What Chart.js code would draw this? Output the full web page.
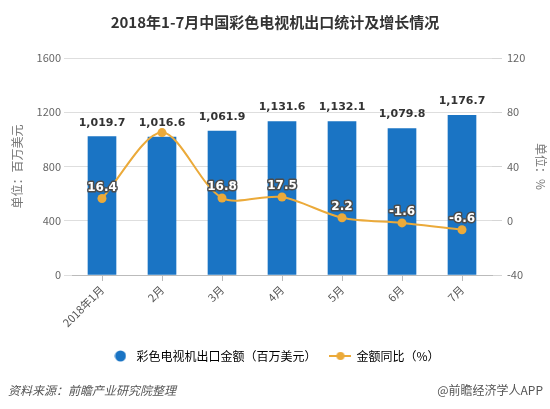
<!DOCTYPE html>
<html>
<head>
<meta charset="utf-8">
<script src="https://cdn.jsdelivr.net/npm/chart.js@4/dist/chart.umd.min.js"></script>
<style>
  html, body { margin: 0; padding: 0; background: #fff; }
  #wrap { width: 550px; height: 409px; position: relative; }
</style>
</head>
<body>
<div id="wrap"><canvas id="chart" width="550" height="409"></canvas></div>
<script>
var months = ['2018年1月', '2月', '3月', '4月', '5月', '6月', '7月'];
var exportValue = [1019.7, 1016.6, 1061.9, 1131.6, 1132.1, 1079.8, 1176.7];
var growthRate = [16.4, 65.0, 16.8, 17.5, 2.2, -1.6, -6.6];
var leftTicks = [0, 400, 800, 1200, 1600];
var rightTicks = [-40, 0, 40, 80, 120];

var FONT = '"Noto Sans CJK SC", "Noto Sans", sans-serif';
var BLUE = '#1a74c4';
var GOLD = '#ebaa3a';

// legend icons
function circleIcon() {
  var c = document.createElement('canvas');
  c.width = 12; c.height = 12;
  var g = c.getContext('2d');
  g.fillStyle = BLUE;
  g.beginPath(); g.arc(6, 6, 5.5, 0, Math.PI * 2); g.fill();
  return c;
}
function lineIcon() {
  var c = document.createElement('canvas');
  c.width = 22; c.height = 10;
  var g = c.getContext('2d');
  g.strokeStyle = GOLD; g.lineWidth = 2;
  g.beginPath(); g.moveTo(0, 5); g.lineTo(22, 5); g.stroke();
  g.fillStyle = GOLD;
  g.beginPath(); g.arc(11, 5, 4, 0, Math.PI * 2); g.fill();
  return c;
}

var valueLabels = {
  id: 'valueLabels',
  afterDatasetsDraw: function(chart) {
    var ctx = chart.ctx;
    var barMeta = chart.getDatasetMeta(0);
    var lineMeta = chart.getDatasetMeta(1);
    ctx.save();
    ctx.textAlign = 'center';
    ctx.textBaseline = 'middle';

    // growth labels (white with dark outline)
    ctx.font = 'bold 12px "DejaVu Sans"';
    lineMeta.data.forEach(function(pt, i) {
      var y = pt.y - 11;
      var barLabelY = barMeta.data[i].y - 14;
      if (Math.abs(y - barLabelY) < 14) return;
      var txt = growthRate[i].toFixed(1);
      ctx.lineWidth = 3;
      ctx.lineJoin = 'round';
      ctx.strokeStyle = '#4d4d4d';
      ctx.strokeText(txt, pt.x, y);
      ctx.fillStyle = '#fff';
      ctx.fillText(txt, pt.x, y);
    });

    // export value labels
    ctx.font = 'bold 11px "DejaVu Sans"';
    ctx.fillStyle = '#333';
    barMeta.data.forEach(function(bar, i) {
      var txt = exportValue[i].toLocaleString('en-US', { minimumFractionDigits: 1, maximumFractionDigits: 1 });
      ctx.fillText(txt, bar.x, bar.y - 14);
    });
    ctx.restore();
  }
};

var footer = {
  id: 'footer',
  afterDraw: function(chart) {
    var ctx = chart.ctx;
    ctx.save();
    ctx.fillStyle = '#555';
    ctx.textBaseline = 'middle';
    ctx.font = 'italic 12px ' + FONT;
    ctx.textAlign = 'left';
    ctx.fillText('资料来源：前瞻产业研究院整理', 8, 390);
    ctx.font = '12px ' + FONT;
    ctx.textAlign = 'right';
    ctx.fillText('@前瞻经济学人APP', 543, 390);
    ctx.restore();
  }
};

new Chart('chart', {
  type: 'bar',
  data: {
    labels: months,
    datasets: [
      {
        type: 'bar',
        label: '彩色电视机出口金额（百万美元）',
        data: exportValue,
        backgroundColor: BLUE,
        barThickness: 28,
        yAxisID: 'y',
        order: 2
      },
      {
        type: 'line',
        label: '金额同比（%）',
        data: growthRate,
        borderColor: GOLD,
        backgroundColor: GOLD,
        borderWidth: 2,
        pointRadius: 4.5,
        pointBackgroundColor: GOLD,
        pointBorderWidth: 0,
        tension: 0.3,
        yAxisID: 'y1',
        order: 1
      }
    ]
  },
  options: {
    responsive: false,
    animation: false,
    layout: { padding: { left: 0, right: 0, top: 0, bottom: 37 } },
    scales: {
      x: {
        offset: true,
        grid: { drawOnChartArea: false, drawTicks: true, tickLength: 6, color: '#bbb', offset: false },
        border: { color: '#bbb' },
        ticks: { minRotation: 45, maxRotation: 45, color: '#555', padding: 2, font: { family: FONT, size: 11 } },
        afterFit: function(s) { s.height = 61; }
      },
      y: {
        position: 'left',
        min: leftTicks[0],
        max: leftTicks[leftTicks.length - 1],
        grid: { color: '#dedede', tickLength: 8 },
        border: { display: false },
        ticks: { stepSize: 400, color: '#666', padding: 3, font: { family: FONT, size: 11 }, callback: function(v) { return String(v); } },
        title: { display: true, text: '单位：百万美元', color: '#777', padding: { top: 10, bottom: 0 }, font: { family: FONT, size: 12 } },
        afterFit: function(s) { s.width = 72; }
      },
      y1: {
        position: 'right',
        min: rightTicks[0],
        max: rightTicks[rightTicks.length - 1],
        grid: { drawOnChartArea: false, tickLength: 10, color: '#d6d6d6' },
        border: { display: false },
        ticks: { stepSize: 40, color: '#666', padding: 5, font: { family: FONT, size: 11 }, callback: function(v) { return String(v); } },
        title: { display: true, text: '单位：%', color: '#777', padding: { top: 2, bottom: 0 }, font: { family: FONT, size: 12 } },
        afterFit: function(s) { s.width = 58; }
      }
    },
    plugins: {
      title: {
        display: true,
        text: '2018年1-7月中国彩色电视机出口统计及增长情况',
        color: '#333',
        font: { family: FONT, size: 15, weight: 'bold' },
        padding: { top: 13, bottom: 27 }
      },
      legend: {
        position: 'bottom',
        labels: {
          usePointStyle: true,
          pointStyleWidth: 20,
          padding: 14,
          color: '#333',
          font: { family: FONT, size: 12 },
          generateLabels: function(chart) {
            var icons = [circleIcon(), lineIcon()];
            return chart.data.datasets.map(function(ds, i) {
              return { text: ds.label, pointStyle: icons[i], fillStyle: 'transparent', strokeStyle: 'transparent', lineWidth: 0, datasetIndex: i, hidden: false };
            });
          }
        }
      },
      tooltip: { enabled: false }
    }
  },
  plugins: [valueLabels, footer]
});
</script>
</body>
</html>
